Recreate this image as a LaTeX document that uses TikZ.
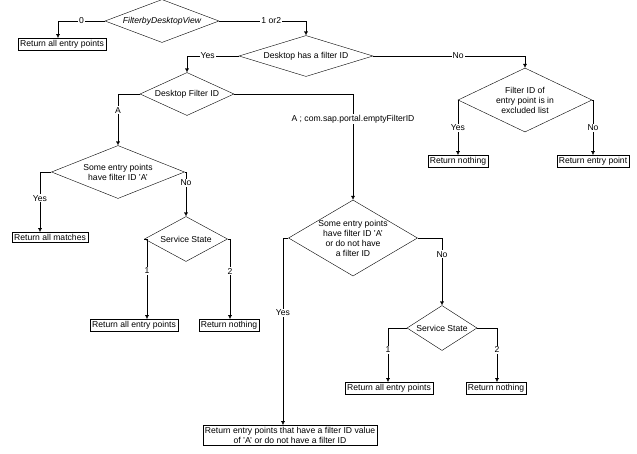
\documentclass[tikz,border=0pt]{standalone}
\usepackage{fontspec}
\setmainfont{Liberation Sans}
\usetikzlibrary{shapes.geometric,arrows.meta}
\tikzset{
  dia/.style 2 args={diamond, draw, inner sep=0pt, minimum width=#1, minimum height=#2},
  txt/.style={font=\fontsize{8.6}{10}\selectfont, align=center, inner sep=1pt},
  box/.style={draw, font=\fontsize{8.6}{10}\selectfont, inner sep=2pt, align=center},
  lab/.style={fill=white, font=\fontsize{8.6}{10}\selectfont, inner sep=1pt},
  arr/.style={-{Latex[length=4pt,width=4pt]}}
}
\begin{document}
\begin{tikzpicture}[x=1pt,y=-1pt]
  \useasboundingbox (0,0) rectangle (637,453);
  % decisions
  \node[dia={114pt}{43pt}] (fdv) at (162,21) {};
  \node[txt] at (fdv) {\itshape FilterbyDesktopView};
  \node[dia={134pt}{41pt}] (hasid) at (306,56) {};
  \node[txt] at (hasid) {Desktop has a filter ID};
  \node[dia={94pt}{43pt}] (dfid) at (187,94) {};
  \node[txt] at (dfid) {Desktop Filter ID};
  \node[dia={134pt}{64pt}] (excl) at (525,100) {};
  \node[txt] at (excl) {Filter ID of\\entry point is in\\excluded list};
  \node[dia={133pt}{53pt}] (someA) at (118,172) {};
  \node[txt] at (someA) {Some entry points\\have filter ID 'A'};
  \node[dia={83pt}{45pt}] (ss1) at (186,239) {};
  \node[txt] at (ss1) {Service State};
  \node[dia={129pt}{76pt}] (someB) at (353,238) {};
  \node[txt] at (someB) {Some entry points\\have filter ID 'A'\\or do not have\\a filter ID};
  \node[dia={70pt}{45pt}] (ss2) at (442,328) {};
  \node[txt] at (ss2) {Service State};
  % results
  \node[box, anchor=north] (all0) at (62,38) {Return all entry points};
  \node[box, anchor=north] (noth1) at (458,155) {Return nothing};
  \node[box, anchor=north] (entry) at (593,155) {Return entry point};
  \node[box, anchor=north] (match) at (50,232) {Return all matches};
  \node[box, anchor=north] (all1) at (134,319) {Return all entry points};
  \node[box, anchor=north] (noth2) at (229,319) {Return nothing};
  \node[box, anchor=north] (all2) at (389,382) {Return all entry points};
  \node[box, anchor=north] (noth3) at (496,382) {Return nothing};
  \node[box, anchor=north] (final) at (290,425) {Return entry points that have a filter ID value\\of 'A' or do not have a filter ID};
  % connectors
  \draw[arr] (fdv.west) -| node[lab, pos=0.25] {0} (all0.north -| 58,0);
  \draw[arr] (fdv.east) -| node[lab, pos=0.3] {1 or2} (hasid.north);
  \draw[arr] (hasid.west) -| node[lab, pos=0.3] {Yes} (dfid.north);
  \draw[arr] (hasid.east) -| node[lab, pos=0.28] {No} (excl.north);
  \draw[arr] (excl.west) -| node[lab, pos=0.75] {Yes} (noth1.north);
  \draw[arr] (excl.east) -| node[lab, pos=0.75] {No} (entry.north);
  \draw[arr] (dfid.west) -| node[lab, pos=0.66] {A} (someA.north);
  \draw[arr] (dfid.east) -| node[lab, pos=0.62] {A ; com.sap.portal.emptyFilterID} (someB.north);
  \draw[arr] (someA.west) -| node[lab, pos=0.72] {Yes} (match.north -| 40,0);
  \draw[arr] (someA.east) -| node[lab, pos=0.62] {No} (ss1.north);
  \draw[arr] (ss1.west) -| node[lab, pos=0.7] {1} (all1.north -| 147,0);
  \draw[arr] (ss1.east) -| node[lab, pos=0.7] {2} (noth2.north -| 230,0);
  \draw[arr] (someB.west) -| node[lab, pos=0.7] {Yes} (final.north -| 283,0);
  \draw[arr] (someB.east) -| node[lab, pos=0.62] {No} (ss2.north);
  \draw[arr] (ss2.west) -| node[lab, pos=0.7] {1} (all2.north -| 388,0);
  \draw[arr] (ss2.east) -| node[lab, pos=0.7] {2} (noth3.north -| 497,0);
\end{tikzpicture}
\end{document}
